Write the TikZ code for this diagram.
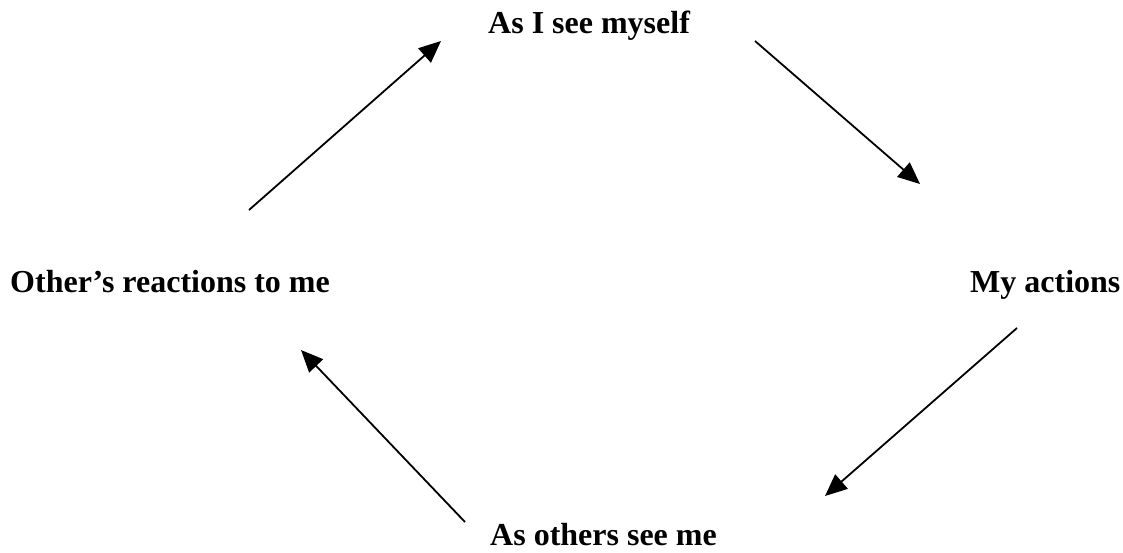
\documentclass[tikz,border=0pt]{standalone}
\usepackage{fontspec}
\setmainfont{Liberation Serif}
\usetikzlibrary{arrows.meta}
\tikzset{
  lbl/.style={inner sep=0pt, anchor=base west, font=\fontsize{32}{38}\selectfont\bfseries},
  arr/.style={line width=1.8pt, -{Triangle[length=22pt,width=19pt]}}
}
\begin{document}
\begin{tikzpicture}[x=1pt,y=-1pt]
\useasboundingbox (0,0) rectangle (1123,552);
\node[lbl] (top) at (488,33) {As I see myself};
\node[lbl] (left) at (10,292) {Other’s reactions to me};
\node[lbl] (right) at (970,292) {My actions};
\node[lbl] (bottom) at (490,545) {As others see me};
\coordinate (a1s) at (249,210);
\coordinate (a1e) at (441,41);
\coordinate (a2s) at (755,41);
\coordinate (a2e) at (920,184);
\coordinate (a3s) at (1017,328);
\coordinate (a3e) at (825,496);
\coordinate (a4s) at (465,522);
\coordinate (a4e) at (301,350);
\draw[arr] (a1s) -- (a1e);
\draw[arr] (a2s) -- (a2e);
\draw[arr] (a3s) -- (a3e);
\draw[arr] (a4s) -- (a4e);
\end{tikzpicture}
\end{document}
